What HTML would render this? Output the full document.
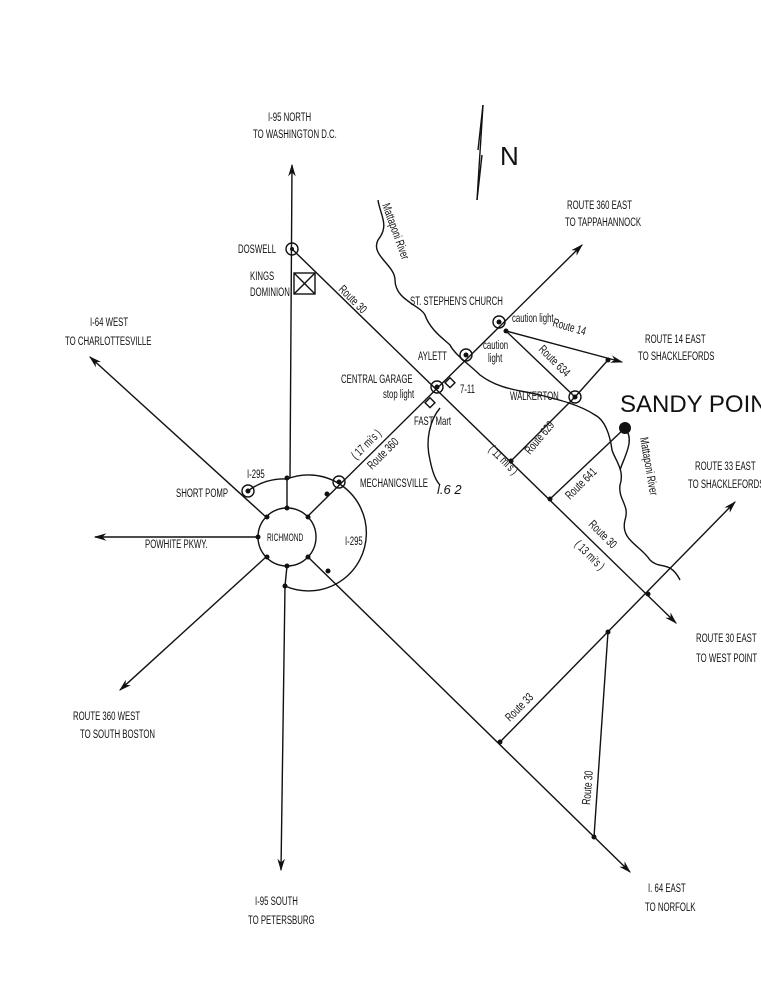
<!DOCTYPE html>
<html><head><meta charset="utf-8"><style>
html,body{margin:0;padding:0;background:#fff;}
svg{display:block}
text{font-family:"Liberation Sans",sans-serif;fill:#111;font-size:12px}
</style></head><body>
<svg width="761" height="995" viewBox="0 0 761 995" xmlns="http://www.w3.org/2000/svg">
<defs><marker id="a" viewBox="0 0 10 10" refX="9" refY="5" markerWidth="9" markerHeight="9" orient="auto"><path d="M0,2 L10,5 L0,8 L3,5z" fill="#111"/></marker></defs>
<g stroke="#111" stroke-width="1.4" fill="none">
<line x1="290" y1="478" x2="292" y2="165" marker-end="url(#a)"/>
<line x1="285" y1="586" x2="281" y2="870" marker-end="url(#a)"/>
<line x1="287" y1="508" x2="287" y2="478"/><line x1="287" y1="566" x2="285" y2="586"/>
<line x1="292" y1="249" x2="676" y2="623" marker-end="url(#a)"/>
<line x1="307" y1="517" x2="582" y2="245" marker-end="url(#a)"/>
<line x1="266" y1="517" x2="90" y2="357" marker-end="url(#a)"/>
<line x1="258" y1="537" x2="95" y2="537" marker-end="url(#a)"/>
<line x1="266" y1="557" x2="120" y2="690" marker-end="url(#a)"/>
<line x1="308" y1="557" x2="630" y2="872" marker-end="url(#a)"/>
<line x1="500" y1="742" x2="735" y2="502" marker-end="url(#a)"/>
<line x1="608" y1="632" x2="594" y2="837"/>
<line x1="506" y1="331" x2="622" y2="362" marker-end="url(#a)"/>
<line x1="506" y1="331" x2="575" y2="397"/>
<line x1="575" y1="397" x2="608" y2="360"/>
<line x1="575" y1="397" x2="511" y2="461"/>
<line x1="550" y1="499" x2="625" y2="428"/>
<circle cx="287" cy="537" r="29"/>
<path d="M248,491 A58,58 0 0 1 287,479 A58,58 0 1 1 285,586"/>
<circle cx="292" cy="249" r="6"/>
<rect x="294" y="273" width="21" height="21"/><line x1="294" y1="273" x2="315" y2="294"/><line x1="315" y1="273" x2="294" y2="294"/>
<circle cx="248" cy="491" r="6"/>
<circle cx="339" cy="482" r="6"/>
<circle cx="437" cy="387" r="6"/>
<circle cx="466" cy="355" r="6"/>
<circle cx="499" cy="322" r="6"/>
<circle cx="575" cy="397" r="6"/>
<rect x="447" y="379" width="7" height="7" transform="rotate(45 450 382)"/>
<rect x="427" y="399" width="7" height="7" transform="rotate(45 430 402)"/>
<path d="M378,200 C380,215 390,225 378,240 C370,255 395,265 395,280 C395,300 420,305 425,315 C430,330 445,340 450,345 C455,355 470,365 480,375 C500,390 520,390 540,395 C560,400 580,405 595,415 C605,420 610,435 612,450 C615,460 625,470 620,485 C618,500 630,505 625,520 C620,540 640,545 650,560 C660,570 670,560 680,580"/>
<path d="M625,428 C635,440 625,455 620,470"/>
<path d="M440,408 C430,420 425,440 430,460 C432,470 435,480 440,485"/>
<line x1="483" y1="105" x2="477" y2="200"/>
<path d="M483,105 L478,150 M477,200 L482,155"/>
</g>
<g fill="#111">
<circle cx="437" cy="387" r="2.5"/><circle cx="466" cy="355" r="2.5"/><circle cx="499" cy="322" r="2.5"/><circle cx="575" cy="397" r="2.5"/><circle cx="339" cy="482" r="2.5"/><circle cx="248" cy="491" r="2.5"/><circle cx="292" cy="249" r="2"/>
<circle cx="625" cy="428" r="6"/>
<circle cx="506" cy="331" r="2.5"/><circle cx="608" cy="360" r="2.5"/><circle cx="511" cy="461" r="2.5"/><circle cx="550" cy="499" r="2.5"/>
<circle cx="648" cy="594" r="2.5"/><circle cx="608" cy="632" r="2.5"/><circle cx="500" cy="742" r="2.5"/><circle cx="594" cy="837" r="2.5"/>
<circle cx="287" cy="478" r="2.5"/><circle cx="287" cy="508" r="2.5"/><circle cx="267" cy="517" r="2.5"/><circle cx="308" cy="517" r="2.5"/><circle cx="258" cy="537" r="2.5"/><circle cx="267" cy="557" r="2.5"/><circle cx="308" cy="557" r="2.5"/><circle cx="287" cy="566" r="2.5"/><circle cx="328" cy="571" r="2.5"/><circle cx="327" cy="494" r="2.5"/><circle cx="285" cy="586" r="2.5"/>
</g>
<g>
<text transform="translate(268,121) scale(.65,1)">I-95  NORTH</text>
<text transform="translate(253,138) scale(.65,1)">TO WASHINGTON D.C.</text>
<text x="500" y="165" style="font-size:26px">N</text>
<text transform="translate(567,209) scale(.65,1)">ROUTE 360 EAST</text>
<text transform="translate(565,226) scale(.65,1)">TO TAPPAHANNOCK</text>
<text transform="translate(238,253) scale(.65,1)">DOSWELL</text>
<text transform="translate(250,280) scale(.65,1)">KINGS</text><text transform="translate(250,296) scale(.65,1)">DOMINION</text>
<text transform="translate(90,326) scale(.65,1)">I-64 WEST</text><text transform="translate(65,345) scale(.65,1)">TO CHARLOTTESVILLE</text>
<text transform="translate(410,305) scale(.65,1)">ST. STEPHEN'S CHURCH</text>
<text transform="translate(512,322) scale(.65,1)">caution light</text>
<text transform="translate(483,349) scale(.65,1)">caution</text><text transform="translate(488,362) scale(.65,1)">light</text>
<text transform="translate(645,343) scale(.65,1)">ROUTE 14 EAST</text><text transform="translate(638,360) scale(.65,1)">TO SHACKLEFORDS</text>
<text x="620" y="412" style="font-size:24px">SANDY POINT</text>
<text transform="translate(418,360) scale(.65,1)">AYLETT</text>
<text transform="translate(341,383) scale(.65,1)">CENTRAL GARAGE</text><text transform="translate(383,398) scale(.65,1)">stop light</text>
<text transform="translate(460,393) scale(.65,1)">7-11</text>
<text transform="translate(414,425) scale(.65,1)">FAST Mart</text>
<text transform="translate(510,400) scale(.65,1)">WALKERTON</text>
<text transform="translate(176,497) scale(.65,1)">SHORT POMP</text>
<text transform="translate(247,478) scale(.65,1)">I-295</text>
<text transform="translate(360,487) scale(.65,1)">MECHANICSVILLE</text>
<text x="437" y="494" style="font-size:13px;font-style:italic">l.6 2</text>
<text transform="translate(267,541) scale(.6,1)" style="font-size:11px">RICHMOND</text>
<text transform="translate(345,545) scale(.65,1)">I-295</text>
<text transform="translate(145,548) scale(.65,1)">POWHITE PKWY.</text>
<text transform="translate(695,470) scale(.65,1)">ROUTE 33 EAST</text><text transform="translate(688,488) scale(.65,1)">TO SHACKLEFORDS</text>
<text transform="translate(696,642) scale(.65,1)">ROUTE 30 EAST</text><text transform="translate(696,662) scale(.65,1)">TO WEST POINT</text>
<text transform="translate(73,720) scale(.65,1)">ROUTE 360 WEST</text><text transform="translate(80,738) scale(.65,1)">TO SOUTH BOSTON</text>
<text transform="translate(255,905) scale(.65,1)">I-95 SOUTH</text><text transform="translate(248,924) scale(.65,1)">TO PETERSBURG</text>
<text transform="translate(648,892) scale(.65,1)">I. 64 EAST</text><text transform="translate(645,911) scale(.65,1)">TO NORFOLK</text>
</g>
<g style="font-size:11px">
<text transform="translate(338,290) rotate(45) scale(.7,1)">Route 30</text>
<text transform="translate(356,460) rotate(-45) scale(.7,1)">( 17 mi's )</text>
<text transform="translate(372,470) rotate(-45) scale(.7,1)">Route 360</text>
<text transform="translate(488,450) rotate(45) scale(.7,1)">( 11 mi's )</text>
<text transform="translate(552,326) rotate(16) scale(.7,1)">Route 14</text>
<text transform="translate(538,350) rotate(45) scale(.7,1)">Route 634</text>
<text transform="translate(530,455) rotate(-50) scale(.7,1)">Route 629</text>
<text transform="translate(570,500) rotate(-45) scale(.7,1)">Route 641</text>
<text transform="translate(588,525) rotate(45) scale(.7,1)">Route 30</text>
<text transform="translate(574,545) rotate(45) scale(.7,1)">( 13 mi's )</text>
<text transform="translate(510,722) rotate(-45) scale(.7,1)">Route 33</text>
<text transform="translate(590,805) rotate(-85) scale(.7,1)">Route 30</text>
<text transform="translate(382,205) rotate(70) scale(.7,1)">Mattaponi River</text>
<text transform="translate(640,438) rotate(80) scale(.7,1)">Mattaponi River</text>
</g>
</svg>
</body></html>
